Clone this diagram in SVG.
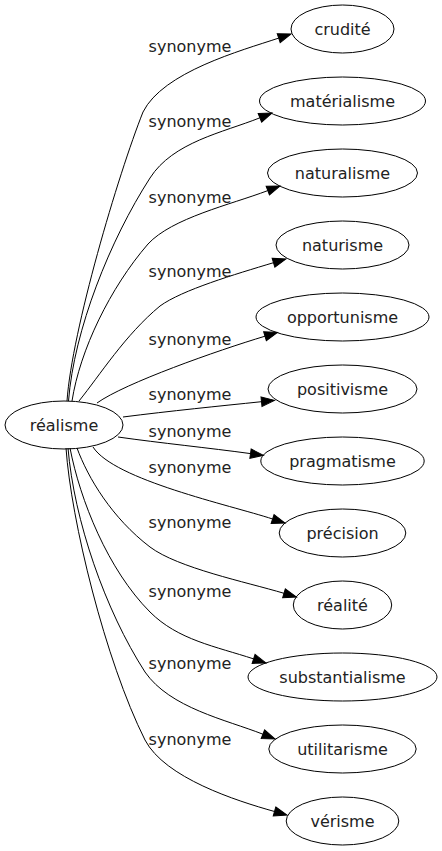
<svg xmlns="http://www.w3.org/2000/svg" width="442" height="851" viewBox="0 0 442 851">
<style>
.n ellipse{fill:none;stroke:#000;stroke-width:1}
text{font-family:"DejaVu Sans",Verdana,sans-serif;font-size:16px;fill:#222;text-anchor:middle}
#edges path{fill:none;stroke:#000;stroke-width:1;marker-end:url(#arr)}
</style>
<defs>
<marker id="arr" markerUnits="userSpaceOnUse" markerWidth="14" markerHeight="10" refX="0" refY="0" viewBox="0 -5 14 10" orient="auto" overflow="visible">
<path d="M0,-4.7 L13,0 L0,4.7 Z" fill="#000" stroke="#000" stroke-width="1"/>
</marker>
</defs>
<rect width="442" height="851" fill="#fff"/>
<g id="edges">
<path d="M67,401 C72,330 118,175 143,112 C163,72 240.7,50.7 278.7,38.1"/>
<path d="M68.5,401 C74,330 110,240 150,178 C173,142 222.8,132.6 259.9,117.8"/>
<path d="M72,401 C80,350 110,288 148,244 C172,218 230.4,204.7 267.8,190.6"/>
<path d="M79,401 C100,375 125,335 160,306 C182,290 235.2,274.2 273.5,262.7"/>
<path d="M97,403 C125,383 217.1,350.6 265,336.2"/>
<path d="M123,417 C170,411 220,406 261.5,401.7"/>
<path d="M118,437 C160,443 210,448 250.5,453.6"/>
<path d="M93,447 C114,480 229.9,505 272.6,519"/>
<path d="M77,448 C88,478 112,518 150,547 C178,568 245.7,581.9 284,593.3"/>
<path d="M70,448 C80,500 108,570 150,612 C178,640 215.6,646.4 253.6,658.9"/>
<path d="M68,448 C74,520 105,610 145,672 C170,708 225.7,719.6 262.9,734.2"/>
<path d="M66,448 C71,520 105,660 145,740 C165,778 236,800.7 274.5,811.5"/>
<text x="190" y="52">synonyme</text>
<text x="190" y="127">synonyme</text>
<text x="190" y="203">synonyme</text>
<text x="190" y="277">synonyme</text>
<text x="190" y="345">synonyme</text>
<text x="190" y="400">synonyme</text>
<text x="190" y="437">synonyme</text>
<text x="190" y="473">synonyme</text>
<text x="190" y="528">synonyme</text>
<text x="190" y="597">synonyme</text>
<text x="190" y="669">synonyme</text>
<text x="190" y="745">synonyme</text>
</g>
<g id="realisme" class="n"><ellipse cx="64" cy="425" rx="59" ry="24"/><text x="64" y="430.5">réalisme</text></g>
<g id="crudite" class="n"><ellipse cx="342.5" cy="29" rx="51.5" ry="24"/><text x="342.5" y="34.5">crudité</text></g>
<g id="materialisme" class="n"><ellipse cx="342.5" cy="101" rx="83" ry="24"/><text x="342.5" y="106.5">matérialisme</text></g>
<g id="naturalisme" class="n"><ellipse cx="342.5" cy="173" rx="75" ry="24"/><text x="342.5" y="178.5">naturalisme</text></g>
<g id="naturisme" class="n"><ellipse cx="342.5" cy="245" rx="66.5" ry="24"/><text x="342.5" y="250.5">naturisme</text></g>
<g id="opportunisme" class="n"><ellipse cx="342.5" cy="317" rx="86.5" ry="24"/><text x="342.5" y="322.5">opportunisme</text></g>
<g id="positivisme" class="n"><ellipse cx="342.5" cy="389" rx="74.5" ry="24"/><text x="342.5" y="394.5">positivisme</text></g>
<g id="pragmatisme" class="n"><ellipse cx="342.5" cy="461" rx="81.7" ry="24"/><text x="342.5" y="466.5">pragmatisme</text></g>
<g id="precision" class="n"><ellipse cx="342.5" cy="533" rx="63.3" ry="24"/><text x="342.5" y="538.5">précision</text></g>
<g id="realite" class="n"><ellipse cx="342.5" cy="605" rx="49.2" ry="24"/><text x="342.5" y="610.5">réalité</text></g>
<g id="substantialisme" class="n"><ellipse cx="342.5" cy="677" rx="94.5" ry="24"/><text x="342.5" y="682.5">substantialisme</text></g>
<g id="utilitarisme" class="n"><ellipse cx="342.5" cy="749" rx="73.7" ry="24"/><text x="342.5" y="754.5">utilitarisme</text></g>
<g id="verisme" class="n"><ellipse cx="342.5" cy="821" rx="56.3" ry="24"/><text x="342.5" y="826.5">vérisme</text></g>
</svg>
